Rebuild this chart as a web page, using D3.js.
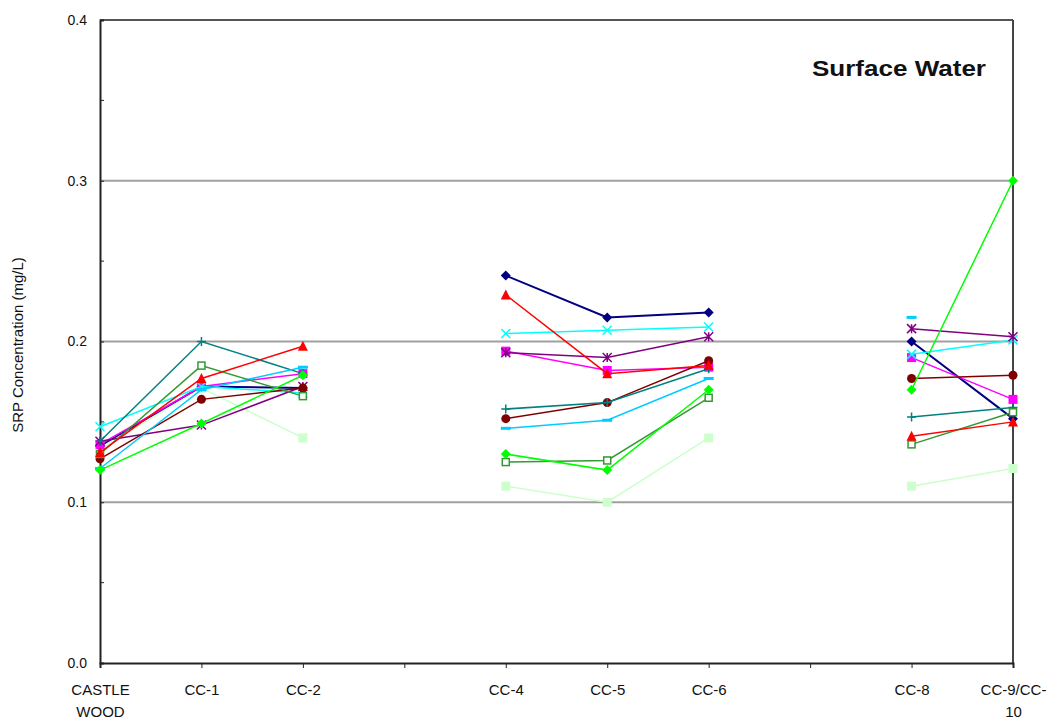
<!DOCTYPE html>
<html><head><meta charset="utf-8">
<script src="https://cdn.jsdelivr.net/npm/d3@7"></script>
<style>body{margin:0;background:#fff;}svg{display:block;font-family:"Liberation Sans",Arial,sans-serif;}</style>
</head><body><svg id="c" width="1064" height="721"></svg>
<script>
const categories = ["CASTLE WOOD","CC-1","CC-2","CC-3","CC-4","CC-5","CC-6","CC-7","CC-8","CC-9/CC-10"];
const tickLabels = [["CASTLE","WOOD"],["CC-1"],["CC-2"],[""],["CC-4"],["CC-5"],["CC-6"],[""],["CC-8"],["CC-9/CC-","10"]];
const yTicks = [0.0,0.1,0.2,0.3,0.4];
const yMinorTicks = [0.05,0.15,0.25,0.35];
const gridValues = [0.1,0.2,0.3];
const title = "Surface Water";
const yTitle = "SRP Concentration (mg/L)";

const seriesNames = ["lightgreen","navy","magenta","cyan","purple","maroon","teal","skyblue","darkgreen","red","green"];
const lightgreen = [0.133,0.171,0.140,null,0.110,0.100,0.140,null,0.110,0.121];
const navy      = [0.135,0.172,0.171,null,0.241,0.215,0.218,null,0.200,0.152];
const magenta   = [0.136,0.172,0.180,null,0.194,0.182,0.184,null,0.190,0.164];
const cyan      = [0.147,0.172,0.168,null,0.205,0.207,0.209,null,0.192,0.201];
const purple    = [0.138,0.148,0.172,null,0.193,0.190,0.203,null,0.208,0.203];
const maroon    = [0.127,0.164,0.171,null,0.152,0.162,0.188,null,0.177,0.179];
const teal      = [0.138,0.200,0.180,null,0.158,0.162,0.183,null,0.153,0.159];
const skyblue   = [0.121,0.170,0.184,null,0.146,0.151,0.177,null,0.215,null];
const darkgreen = [0.130,0.185,0.166,null,0.125,0.126,0.165,null,0.136,0.156];
const red       = [0.131,0.177,0.197,null,0.229,0.180,0.185,null,0.141,0.150];
const green     = [0.120,0.149,0.179,null,0.130,0.120,0.170,null,0.170,0.300];
const seriesValues = [lightgreen,navy,magenta,cyan,purple,maroon,teal,skyblue,darkgreen,red,green];

const styles = {
  lightgreen:{color:"#CCFFCC",marker:"square",w:1.5},
  navy:{color:"#000080",marker:"diamond",w:2},
  magenta:{color:"#FF00FF",marker:"square",w:1.5},
  cyan:{color:"#00FFFF",marker:"x",w:1.5},
  purple:{color:"#800080",marker:"star",w:1.5},
  maroon:{color:"#800000",marker:"circle",w:1.5},
  teal:{color:"#008080",marker:"plus",w:1.5},
  skyblue:{color:"#00CCFF",marker:"dash",w:1.5},
  darkgreen:{color:"#339933",marker:"osquare",w:1.5},
  red:{color:"#FF0000",marker:"triangle",w:1.5},
  green:{color:"#00FF00",marker:"diamond",w:1.5}
};

const svg = d3.select("#c");
const mLeft=100, mRight=1013, mTop=20, mBottom=663;
const x = d3.scalePoint().domain(categories).range([mLeft,mRight]);
const y = d3.scaleLinear().domain([0,0.4]).range([mBottom,mTop]);

// gridlines
svg.append("g").selectAll("line").data(gridValues).join("line")
  .attr("x1",mLeft).attr("x2",mRight).attr("y1",d=>y(d)).attr("y2",d=>y(d))
  .attr("stroke","#a0a0a0").attr("stroke-width",2);
// top & right border
svg.append("line").attr("x1",mLeft).attr("x2",mRight).attr("y1",y(0.4)).attr("y2",y(0.4)).attr("stroke","#555").attr("stroke-width",2);
svg.append("line").attr("x1",mRight).attr("x2",mRight).attr("y1",y(0.4)).attr("y2",mBottom).attr("stroke","#444").attr("stroke-width",2);

// y axis
const yAxis = d3.axisLeft(y).tickValues(yTicks).tickFormat(d3.format(".1f")).tickSize(-4).tickPadding(13);
const gy = svg.append("g").attr("transform",`translate(${mLeft},0)`).call(yAxis);
gy.select(".domain").attr("stroke","#222").attr("stroke-width",2);
gy.selectAll(".tick line").attr("stroke","#222");
gy.selectAll("text").attr("font-size",14).attr("fill","#111");
svg.append("g").selectAll("line").data(yMinorTicks).join("line")
  .attr("x1",mLeft).attr("x2",mLeft+4).attr("y1",d=>y(d)).attr("y2",d=>y(d)).attr("stroke","#222");

// x axis
const xAxis = d3.axisBottom(x).tickSize(5).tickFormat("");
const gx = svg.append("g").attr("transform",`translate(0,${mBottom})`).call(xAxis);
gx.select(".domain").attr("stroke","#222").attr("stroke-width",2);
gx.selectAll(".tick line").attr("stroke","#222");
gx.selectAll(".tick").each(function(d,i){
  const t = d3.select(this).append("text").attr("fill","#111").attr("font-size",15).attr("text-anchor","middle");
  tickLabels[i].forEach((s,k)=>t.append("tspan").attr("x",0).attr("y",32+k*22).text(s));
});

// y title
svg.append("text").attr("transform",`translate(23,345) rotate(-90)`).attr("text-anchor","middle")
  .attr("font-size",15).attr("fill","#111").text(yTitle);
// chart title
svg.append("text").attr("x",812).attr("y",76).attr("font-size",22)
  .attr("textLength",174).attr("lengthAdjust","spacingAndGlyphs")
  .attr("font-weight","bold").attr("fill","#111").text(title);

// series
const line = d3.line().defined(d=>d.v!=null).x(d=>x(d.c)).y(d=>y(d.v));
function marker(g, type, color){
  const s=4.5;
  if(type==="diamond") g.append("path").attr("d",`M0,${-s-0.5}L${s+0.5},0L0,${s+0.5}L${-s-0.5},0Z`).attr("fill",color);
  else if(type==="square") g.append("rect").attr("x",-s).attr("y",-s).attr("width",2*s).attr("height",2*s).attr("fill",color);
  else if(type==="osquare") g.append("rect").attr("x",-3.5).attr("y",-3.5).attr("width",7).attr("height",7).attr("fill","#fff").attr("stroke",color).attr("stroke-width",1.5);
  else if(type==="triangle") g.append("path").attr("d",`M0,${-s-1}L${s+0.5},${s}L${-s-0.5},${s}Z`).attr("fill",color);
  else if(type==="circle") g.append("circle").attr("r",s).attr("fill",color);
  else if(type==="plus") g.append("path").attr("d",`M${-s},0H${s}M0,${-s}V${s}`).attr("stroke",color).attr("stroke-width",1.5);
  else if(type==="x") g.append("path").attr("d",`M${-s},${-s}L${s},${s}M${-s},${s}L${s},${-s}`).attr("stroke",color).attr("stroke-width",1.5);
  else if(type==="star") g.append("path").attr("d",`M${-s},${-s}L${s},${s}M${-s},${s}L${s},${-s}M0,${-s}V${s}`).attr("stroke",color).attr("stroke-width",1.5);
  else if(type==="dash") g.append("rect").attr("x",-5).attr("y",-1.5).attr("width",10).attr("height",3).attr("fill",color);
}
seriesNames.forEach((name,si)=>{
  const st = styles[name];
  const data = categories.map((c,i)=>({c, v: seriesValues[si][i]}));
  const g = svg.append("g");
  g.append("path").datum(data).attr("d",line).attr("fill","none").attr("stroke",st.color).attr("stroke-width",st.w);
  data.filter(d=>d.v!=null).forEach(d=>{
    marker(g.append("g").attr("transform",`translate(${x(d.c)},${y(d.v)})`), st.marker, st.color);
  });
});
</script></body></html>
